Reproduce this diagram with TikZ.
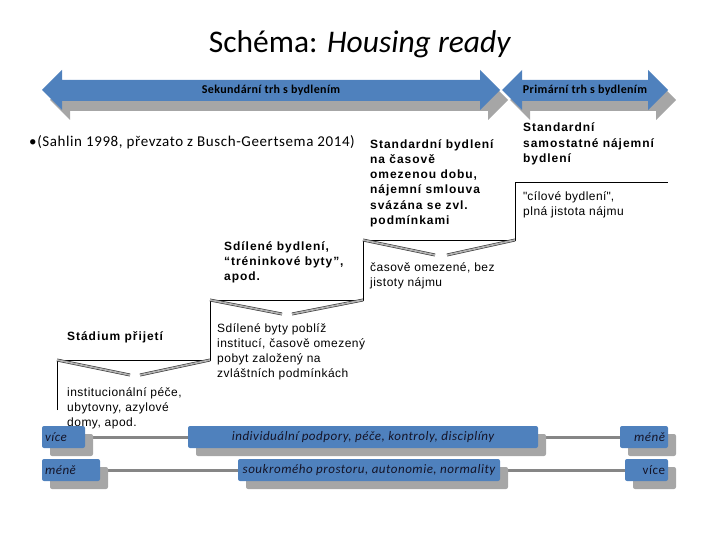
\documentclass[tikz,border=0pt]{standalone}
\usepackage{fontspec}
\setmainfont{Liberation Sans}
\newfontfamily\calfont{Carlito}
\newfontfamily\calsp[LetterSpace=4]{Carlito}
\newfontfamily\calarr[LetterSpace=3]{Carlito}
\newfontfamily\boldsp[LetterSpace=8]{Liberation Sans}
\newfontfamily\regsp[LetterSpace=4]{Liberation Sans}
\usetikzlibrary{shadows}
\definecolor{boxblue}{RGB}{79,129,189}
\definecolor{shadowgray}{RGB}{166,166,166}
\definecolor{boxtext}{RGB}{20,20,40}
\begin{document}
\begin{tikzpicture}[x=1pt,y=-1pt,
  bigarrow/.style={fill=boxblue},
  arrowshadow/.style={fill=shadowgray},
  stair/.style={draw=black, line width=0.7pt},
  vline/.style={draw=black!80, line width=0.6pt, double=gray!60, double distance=1.7pt},
  txt/.style={font=\regsp\fontsize{12}{15}\selectfont, align=left, anchor=north west, inner sep=0pt},
  btxt/.style={txt, font=\boldsp\bfseries\fontsize{12}{15.3}\selectfont},
  barbox/.style={fill=boxblue, rounded corners=2pt, minimum height=22pt, inner sep=3pt,
     text=boxtext, font=\calsp\itshape\fontsize{13}{15}\selectfont,
     drop shadow={shadow xshift=8pt, shadow yshift=-8pt, fill=shadowgray, opacity=1}},
  barline/.style={draw=gray!95, line width=3pt}
]
\useasboundingbox (0,0) rectangle (720,540);

% title
\node[font=\calfont\fontsize{31.5}{36}\selectfont] (title) at (360,44) {Schéma: \textit{Housing ready}};

% big double arrows (shadows)
\fill[arrowshadow] (50,100) -- (70,80) -- (70,90) -- (488,90) -- (488,80) -- (508,100) -- (488,120) -- (488,111) -- (70,111) -- (70,120) -- cycle;
\fill[arrowshadow] (510,100) -- (530,80) -- (530,90) -- (656,90) -- (656,80) -- (676,100) -- (656,120) -- (656,111) -- (530,111) -- (530,120) -- cycle;
\fill[bigarrow] (42,90) -- (62,70) -- (62,80) -- (480,80) -- (480,70) -- (500,90) -- (480,110) -- (480,101) -- (62,101) -- (62,110) -- cycle;
\fill[bigarrow] (502,90) -- (522,70) -- (522,80) -- (648,80) -- (648,70) -- (668,90) -- (648,110) -- (648,101) -- (522,101) -- (522,110) -- cycle;
\node[font=\calarr\bfseries\fontsize{12}{14}\selectfont, text=black] (sek) at (271,90) {Sekundární trh s bydlením};
\node[font=\calarr\bfseries\fontsize{12}{14}\selectfont, text=black] (prim) at (585,90) {Primární trh s bydlením};

% citation
\node[font=\calsp\fontsize{15}{18}\selectfont, anchor=west, inner sep=0pt] (cite) at (29,142) {•(Sahlin 1998, převzato z Busch-Geertsema 2014)};

% staircase
\coordinate (s0) at (57,410);
\coordinate (s1) at (57,360);
\coordinate (s2) at (210,360);
\coordinate (s3) at (210,300);
\coordinate (s4) at (363,300);
\coordinate (s5) at (363,240);
\coordinate (s6) at (515,240);
\coordinate (s7) at (515,182);
\coordinate (s8) at (668,182);
\draw[stair] (s0) -- (s1) -- (s2) -- (s3) -- (s4) -- (s5) -- (s6) -- (s7) -- (s8);

% V arrows
\coordinate (v1) at (130,375); \coordinate (v2) at (140,375);
\coordinate (v3) at (282,314); \coordinate (v4) at (292,314);
\coordinate (v5) at (435,255); \coordinate (v6) at (447,255);
\draw[vline] (s1) -- (v1);
\draw[vline] (s2) -- (v2);
\draw[vline] (s3) -- (v3);
\draw[vline] (s4) -- (v4);
\draw[vline] (s5) -- (v5);
\draw[vline] (s6) -- (v6);

% texts
\node[btxt] (stdcas) at (370,139) {Standardní bydlení\\na časově\\omezenou dobu,\\nájemní smlouva\\svázána se zvl.\\podmínkami};
\node[btxt] (stdsam) at (523,123) {Standardní\\samostatné nájemní\\bydlení};
\node[txt] (cil) at (523,191) {\textquotedbl cílové bydlení\textquotedbl,\\plná jistota nájmu};
\node[btxt] (sdil) at (224,241) {Sdílené bydlení,\\“tréninkové byty”,\\apod.};
\node[txt] (casom) at (370,262) {časově omezené, bez\\jistoty nájmu};
\node[btxt] (stad) at (67,331) {Stádium přijetí};
\node[txt] (sdilby) at (217,323) {Sdílené byty poblíž\\institucí, časově omezený\\pobyt založený na\\zvláštních podmínkách};
\node[txt] (inst) at (67,387) {institucionální péče,\\ubytovny, azylové\\domy, apod.};

% bottom bars
\draw[barline] (85,437) -- (188,437);
\draw[barline] (538,437) -- (620,437);
\draw[barline] (100,470) -- (238,470);
\draw[barline] (500,470) -- (625,470);
\node[barbox, text width=37pt, align=left] (vice1) at (63.5,437) {více};
\node[barbox, minimum width=350pt] (indiv) at (363,437) {individuální podpory, péče, kontroly, disciplíny};
\node[barbox, text width=42pt, align=right] (mene1) at (644,437) {méně};
\node[barbox, text width=52pt, align=left] (mene2) at (71,470) {méně};
\node[barbox, minimum width=262pt] (soukr) at (369,470) {soukromého prostoru, autonomie, normality};
\node[barbox, text width=37pt, align=right, font=\calsp\fontsize{13}{15}\selectfont] (vice2) at (646.5,470) {více};
\end{tikzpicture}
\end{document}
